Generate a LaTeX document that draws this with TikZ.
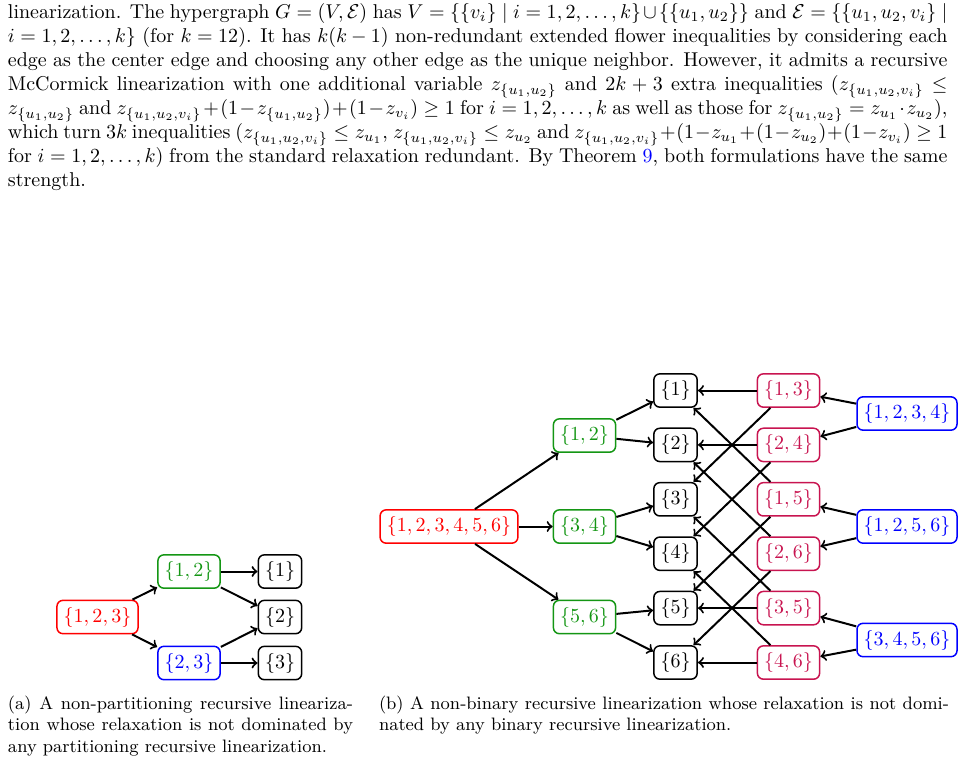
\documentclass[tikz,border=0pt]{standalone}
\usepackage[dvipsnames]{xcolor}
\usepackage{amsmath,amssymb}
\usetikzlibrary{positioning}

\definecolor{pairred}{RGB}{200,20,80}
\definecolor{darkgreen}{RGB}{20,150,20}

\begin{document}
\begin{tikzpicture}[x=0.5pt,y=-0.5pt,->,line width=1pt,node distance=27.2pt,
    set node/.style={rounded corners=3pt,draw,line width=0.75pt,inner sep=3.33pt,font=\normalsize},
    text block/.style={anchor=base west,inner sep=0pt,align=justify}]

    \useasboundingbox (0,0) rectangle (964,761);

    % paragraph above the figure
    \node[text block,text width=469.75pt,font=\normalsize] (para) at (7,18.5) {%
        linearization. The hypergraph $G=(V,\mathcal{E})$ has $V=\{\{v_i\}\mid i=1,2,\dots,k\}\cup\{\{u_1,u_2\}\}$ and $\mathcal{E}=\{\{u_1,u_2,v_i\}\mid$\linebreak
        $i=1,2,\dots,k\}$ (for $k=12$). It has $k(k-1)$ non-redundant extended flower inequalities by considering each\linebreak
        edge as the center edge and choosing any other edge as the unique neighbor. However, it admits a recursive\linebreak
        McCormick linearization with one additional variable $z_{\{u_1,u_2\}}$ and $2k+3$ extra inequalities ($z_{\{u_1,u_2,v_i\}}\le$\linebreak
        $z_{\{u_1,u_2\}}$ and $z_{\{u_1,u_2,v_i\}}+(1-z_{\{u_1,u_2\}})+(1-z_{v_i})\ge 1$ for $i=1,2,\dots,k$ as well as those for $z_{\{u_1,u_2\}}=z_{u_1}\cdot z_{u_2}$),\linebreak
        which turn $3k$ inequalities ($z_{\{u_1,u_2,v_i\}}\le z_{u_1}$, $z_{\{u_1,u_2,v_i\}}\le z_{u_2}$ and $z_{\{u_1,u_2,v_i\}}+(1-z_{u_1}+(1-z_{u_2})+(1-z_{v_i})\ge 1$\linebreak
        for $i=1,2,\dots,k$) from the standard relaxation redundant. By Theorem \textcolor{blue}{9}, both formulations have the same\linebreak
        strength.};

    % (a) non-partitioning
    \node[set node,red] (a123) at (97.5,617) {$\{1,2,3\}$};
    \node[set node,darkgreen] (a12) at (189,571.5) {$\{1,2\}$};
    \node[set node,blue] (a23) at (189,663) {$\{2,3\}$};
    \node[set node] (a1) at (280,571.5) {$\{1\}$};
    \node[set node] (a2) at (280,617) {$\{2\}$};
    \node[set node] (a3) at (280,663) {$\{3\}$};

    \path
        (a123) edge (a12)
        (a123) edge (a23)
        (a12) edge (a1)
        (a12) edge (a2)
        (a23) edge (a2)
        (a23) edge (a3)
        ;

    % (b) non-binary
    \node[set node,red] (b123456) at (449,526.5) {$\{1,2,3,4,5,6\}$};
    \node[set node,darkgreen] (b12) at (584.5,435.5) {$\{1,2\}$};
    \node[set node,darkgreen] (b34) at (584.5,526.5) {$\{3,4\}$};
    \node[set node,darkgreen] (b56) at (584.5,617) {$\{5,6\}$};

    \node[set node] (b1) at (675.5,390.5) {$\{1\}$};
    \node[set node] (b2) [below of = b1] {$\{2\}$};
    \node[set node] (b3) [below of = b2] {$\{3\}$};
    \node[set node] (b4) [below of = b3] {$\{4\}$};
    \node[set node] (b5) [below of = b4] {$\{5\}$};
    \node[set node] (b6) [below of = b5] {$\{6\}$};

    \node[set node,pairred] (b13) at (788.5,390.5) {$\{1,3\}$};
    \node[set node,pairred] (b24) [below of = b13] {$\{2,4\}$};
    \node[set node,pairred] (b15) [below of = b24] {$\{1,5\}$};
    \node[set node,pairred] (b26) [below of = b15] {$\{2,6\}$};
    \node[set node,pairred] (b35) [below of = b26] {$\{3,5\}$};
    \node[set node,pairred] (b46) [below of = b35] {$\{4,6\}$};

    \node[set node,blue] (b1234) at (907,413.5) {$\{1,2,3,4\}$};
    \node[set node,blue] (b1256) at (907,526.5) {$\{1,2,5,6\}$};
    \node[set node,blue] (b3456) at (907,640) {$\{3,4,5,6\}$};

    \path
        (b123456) edge (b12)
        (b123456) edge (b34)
        (b123456) edge (b56)
        (b12) edge (b1)
        (b12) edge (b2)
        (b34) edge (b3)
        (b34) edge (b4)
        (b56) edge (b5)
        (b56) edge (b6)
        (b1234) edge (b13)
        (b1234) edge (b24)
        (b1256) edge (b15)
        (b1256) edge (b26)
        (b3456) edge (b35)
        (b3456) edge (b46)
        (b13) edge (b1)
        (b13) edge (b3)
        (b24) edge (b2)
        (b24) edge (b4)
        (b15) edge (b1)
        (b15) edge (b5)
        (b26) edge (b2)
        (b26) edge (b6)
        (b35) edge (b3)
        (b35) edge (b5)
        (b46) edge (b4)
        (b46) edge (b6)
        ;

    % sub-captions
    \node[text block,text width=172.5pt,font=\fontsize{9}{10.8}\selectfont] (capa) at (7,709) {%
        (a) A non-partitioning recursive lineariza-\linebreak
        tion whose relaxation is not dominated by\linebreak
        any partitioning recursive linearization.};
    \node[text block,text width=285pt,font=\fontsize{9}{10.8}\selectfont] (capb) at (378,709) {%
        (b) A non-binary recursive linearization whose relaxation is not domi-\linebreak
        nated by any binary recursive linearization.};
\end{tikzpicture}
\end{document}
